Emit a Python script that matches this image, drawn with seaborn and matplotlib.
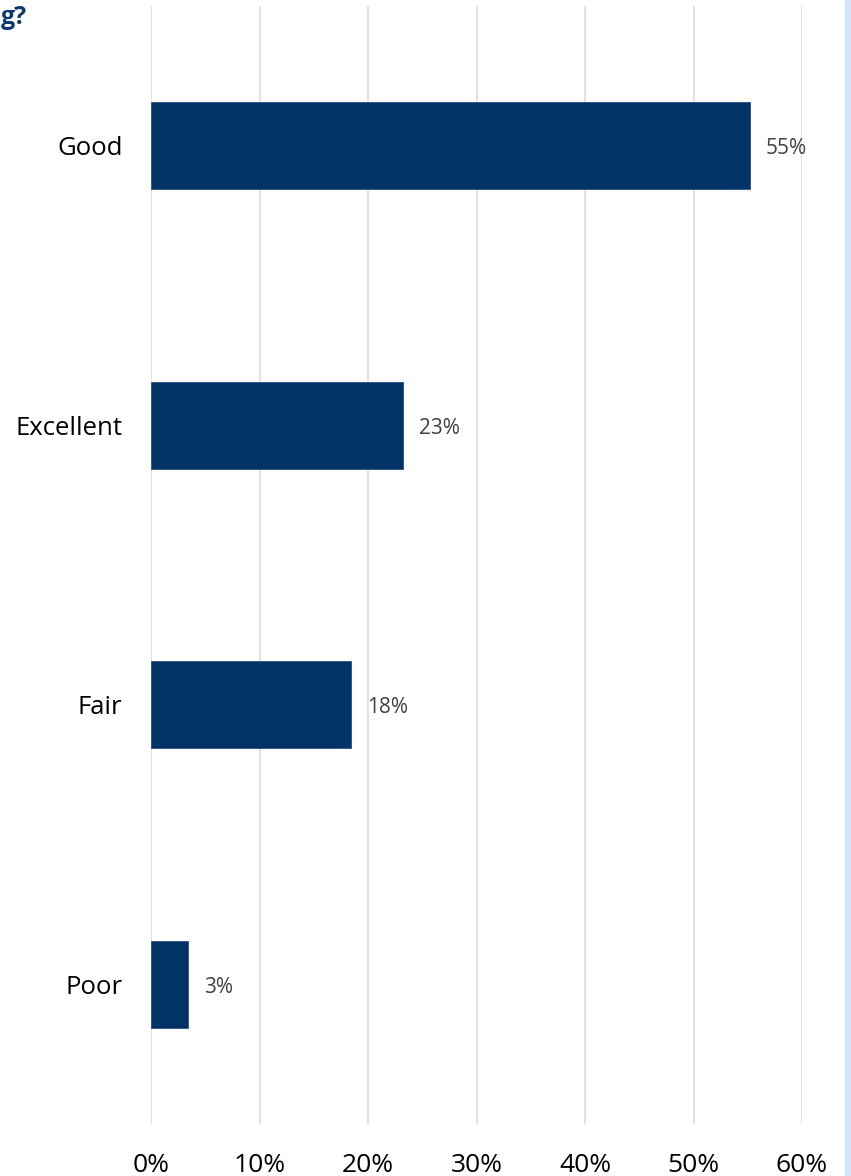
import matplotlib
matplotlib.use("Agg")
import matplotlib.pyplot as plt
import seaborn as sns
import pandas as pd

categories = ["Good", "Excellent", "Fair", "Poor"]
values = [0.552, 0.232, 0.184, 0.034]
x_ticks = [0.0, 0.1, 0.2, 0.3, 0.4, 0.5, 0.6]
x_tick_labels = ["0%", "10%", "20%", "30%", "40%", "50%", "60%"]
title_fragment = "g?"

sns.set_theme(style="white")
plt.rcParams["font.family"] = ["Open Sans", "DejaVu Sans"]

W, H, DPI = 851, 1176, 100
fig = plt.figure(figsize=(W / DPI, H / DPI), dpi=DPI)
ax = fig.add_axes([151 / W, (H - 1124) / H, (802 - 151) / W, (1124 - 6) / H])

df = pd.DataFrame({"category": categories, "value": values})
sns.barplot(data=df, y="category", x="value", orient="h", color="#003366",
            width=0.31, ax=ax, saturation=1, edgecolor="#2c4f80", linewidth=0.6)

ax.set_xlim(0, 0.6)
ax.set_ylim(3.5, -0.5)
ax.set_xticks(x_ticks)
ax.set_xticklabels(x_tick_labels)
ax.set_xlabel("")
ax.set_ylabel("")
for s in ax.spines.values():
    s.set_visible(False)
ax.grid(axis="x", color="#d9d9d9", linewidth=1.1)
ax.grid(axis="y", visible=False)
ax.set_axisbelow(True)
ax.tick_params(axis="y", length=0, pad=20.5, labelsize=18.5, labelcolor="#000000")
ax.tick_params(axis="x", length=0, pad=21, labelsize=19, labelcolor="#000000")

for i, v in enumerate(values):
    ax.annotate(f"{round(v * 100):.0f}%", xy=(v, i), xytext=(11.5, -2),
                textcoords="offset points", ha="left", va="center",
                fontsize=15, color="#404040", annotation_clip=False)

fig.text(27 / W, 1 - 24 / H, title_fragment, ha="right", va="baseline",
         fontsize=18, fontweight="bold", color="#0b3a6e")

fig.patches.append(plt.Rectangle((845 / W, 0), 6 / W, 1, transform=fig.transFigure,
                                 color="#d6e4fb", zorder=0))

fig.savefig("out.png", dpi=DPI)
